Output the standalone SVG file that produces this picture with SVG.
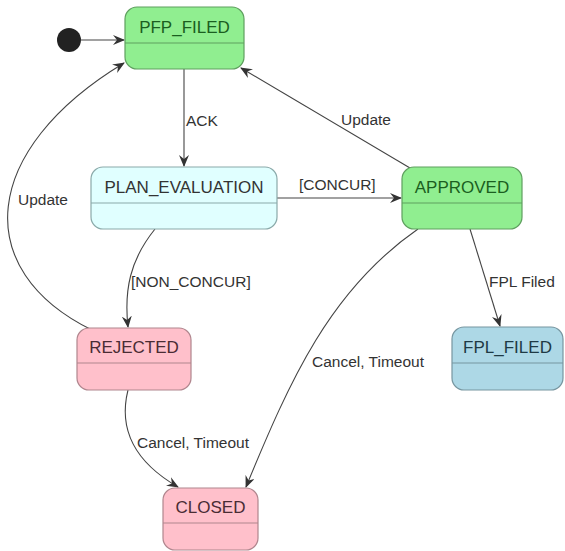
<svg xmlns="http://www.w3.org/2000/svg" width="565" height="551" viewBox="0 0 565 551">
<style>
.st{stroke-width:1.2}
.g{fill:#90EE90;stroke:#5f9f5f}
.c{fill:#E0FFFF;stroke:#8aa9a9}
.p{fill:#FFC0CB;stroke:#b0868e}
.b{fill:#ADD8E6;stroke:#7796a0}
.nt{font-family:"Liberation Sans",Arial,sans-serif;font-size:17px;text-anchor:middle}
.lb{font-family:"Liberation Sans",Arial,sans-serif;font-size:15.5px;fill:#333}
.e{fill:none;stroke:#444;stroke-width:1.1}
</style>
<defs>
<marker id="ah" viewBox="0 0 12 10" refX="11" refY="5" markerWidth="12" markerHeight="10" markerUnits="userSpaceOnUse" orient="auto">
<path d="M0,0 L12,5 L0,10 L4,5 z" fill="#333"/>
</marker>
</defs>
<g id="connectors">
<line class="e" x1="81" y1="40" x2="124" y2="40" marker-end="url(#ah)"/>
<line class="e" x1="184" y1="69" x2="184" y2="166" marker-end="url(#ah)"/>
<text class="lb" x="186" y="126">ACK</text>
<line class="e" x1="277" y1="198" x2="401" y2="198" marker-end="url(#ah)"/>
<text class="lb" x="299" y="190">[CONCUR]</text>
<line class="e" x1="410" y1="168" x2="241" y2="68" marker-end="url(#ah)"/>
<text class="lb" x="341" y="125">Update</text>
<path class="e" d="M 92 330 C -30 270, -20 150, 124 63" marker-end="url(#ah)"/>
<text class="lb" x="18" y="205">Update</text>
<path class="e" d="M 155 229 C 130 260, 124 290, 128 327" marker-end="url(#ah)"/>
<text class="lb" x="131" y="287">[NON_CONCUR]</text>
<line class="e" x1="470" y1="229" x2="500" y2="326" marker-end="url(#ah)"/>
<text class="lb" x="489" y="287">FPL Filed</text>
<path class="e" d="M 418 229 C 330 290, 290 380, 246 487" marker-end="url(#ah)"/>
<text class="lb" x="312" y="367">Cancel, Timeout</text>
<path class="e" d="M 128 390 C 118 430, 135 462, 178 487" marker-end="url(#ah)"/>
<text class="lb" x="137" y="448">Cancel, Timeout</text>
</g>
<g id="initial">
<circle cx="69" cy="40" r="12" fill="#222"/>
</g>
<g id="PFP_FILED">
<rect class="g st" x="125" y="7" width="119" height="62" rx="12"/>
<line class="g st" x1="125" y1="43" x2="244" y2="43"/>
<text class="nt" x="184.5" y="33" fill="#1b5e20">PFP_FILED</text>
</g>
<g id="PLAN_EVALUATION">
<rect class="c st" x="91" y="167" width="186" height="62" rx="12"/>
<line class="c st" x1="91" y1="203" x2="277" y2="203"/>
<text class="nt" x="184" y="193" fill="#333">PLAN_EVALUATION</text>
</g>
<g id="APPROVED">
<rect class="g st" x="402" y="167" width="120" height="62" rx="12"/>
<line class="g st" x1="402" y1="203" x2="522" y2="203"/>
<text class="nt" x="462" y="193" fill="#1b5e20">APPROVED</text>
</g>
<g id="REJECTED">
<rect class="p st" x="77" y="328" width="114" height="62" rx="12"/>
<line class="p st" x1="77" y1="363" x2="191" y2="363"/>
<text class="nt" x="134" y="353" fill="#4a2c34">REJECTED</text>
</g>
<g id="FPL_FILED">
<rect class="b st" x="452" y="327" width="111" height="63" rx="12"/>
<line class="b st" x1="452" y1="363" x2="563" y2="363"/>
<text class="nt" x="507.5" y="353" fill="#1f3a45">FPL_FILED</text>
</g>
<g id="CLOSED">
<rect class="p st" x="163" y="488" width="95" height="62" rx="12"/>
<line class="p st" x1="163" y1="523" x2="258" y2="523"/>
<text class="nt" x="210.5" y="513" fill="#4a2c34">CLOSED</text>
</g>
</svg>
